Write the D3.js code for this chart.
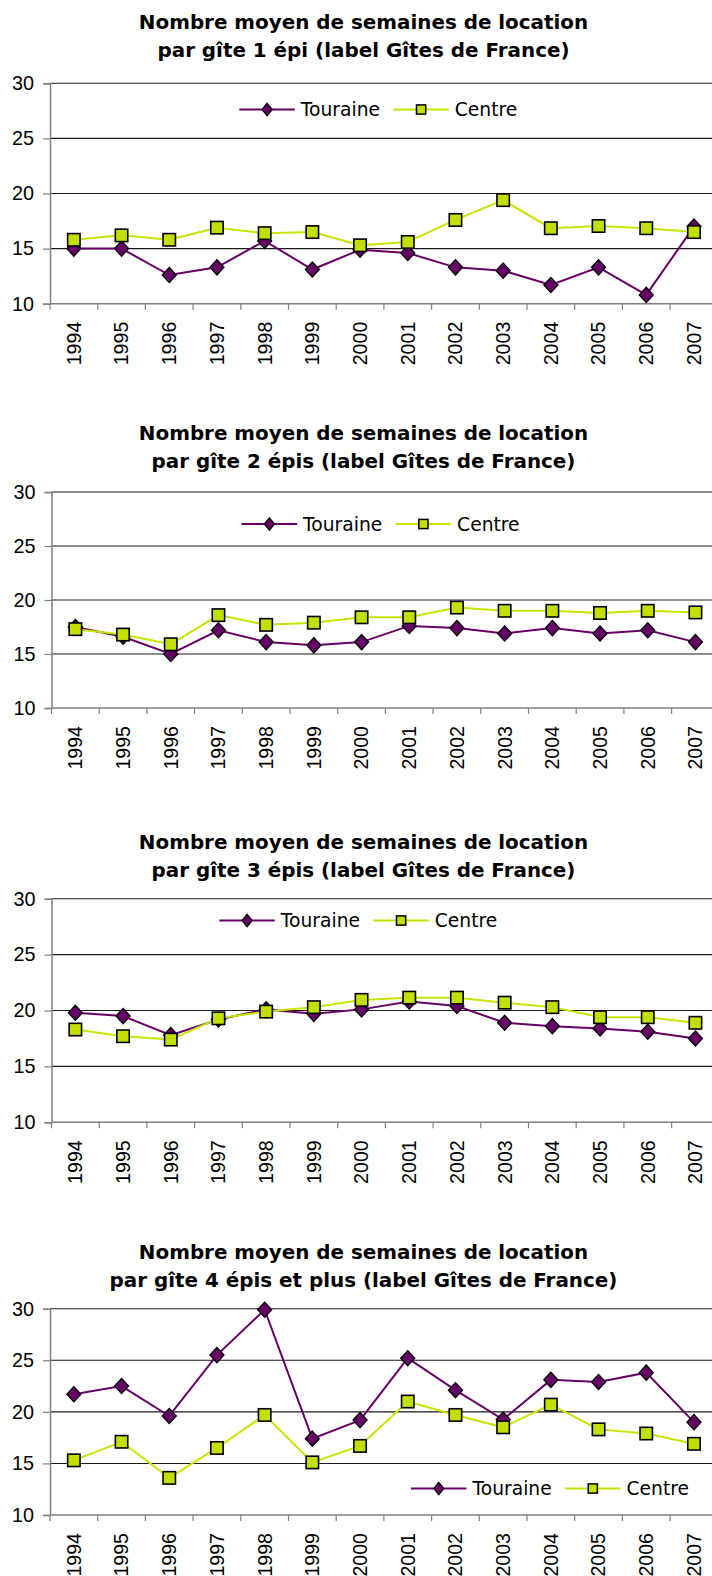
<!DOCTYPE html>
<html>
<head>
<meta charset="utf-8">
<script src="https://cdn.jsdelivr.net/npm/d3@7"></script>
<style>
  html, body { margin: 0; padding: 0; background: #fff; }
  svg { display: block; }
</style>
</head>
<body>
<svg id="chart" width="712" height="1576"></svg>
<script>
// ---------- DATA ----------
const years = ["1994","1995","1996","1997","1998","1999","2000","2001","2002","2003","2004","2005","2006","2007"];
const yTicks = [10, 15, 20, 25, 30];
const seriesNames = ["Touraine", "Centre"];

const titleLine1 = [
  "Nombre moyen de semaines de location",
  "Nombre moyen de semaines de location",
  "Nombre moyen de semaines de location",
  "Nombre moyen de semaines de location"
];
const titleLine2 = [
  "par gîte 1 épi (label Gîtes de France)",
  "par gîte 2 épis (label Gîtes de France)",
  "par gîte 3 épis (label Gîtes de France)",
  "par gîte 4 épis et plus (label Gîtes de France)"
];

const touraine1 = [15.0, 15.0, 12.6, 13.3, 15.7, 13.1, 14.9, 14.6, 13.3, 13.0, 11.7, 13.3, 10.8, 17.0];
const centre1   = [15.8, 16.2, 15.8, 16.9, 16.4, 16.5, 15.3, 15.6, 17.6, 19.4, 16.85, 17.05, 16.85, 16.5];

const touraine2 = [17.5, 16.6, 15.0, 17.2, 16.1, 15.8, 16.1, 17.6, 17.4, 16.9, 17.4, 16.9, 17.2, 16.1];
const centre2   = [17.3, 16.8, 15.9, 18.6, 17.7, 17.9, 18.4, 18.4, 19.3, 19.0, 19.0, 18.8, 19.0, 18.85];

const touraine3 = [19.8, 19.5, 17.8, 19.2, 20.1, 19.7, 20.1, 20.8, 20.4, 18.9, 18.6, 18.4, 18.1, 17.5];
const centre3   = [18.3, 17.7, 17.4, 19.3, 19.9, 20.3, 20.95, 21.15, 21.15, 20.7, 20.3, 19.4, 19.4, 18.9];

const touraine4 = [21.7, 22.5, 19.6, 25.5, 29.9, 17.4, 19.2, 25.2, 22.1, 19.25, 23.1, 22.9, 23.8, 19.0];
const centre4   = [15.3, 17.1, 13.6, 16.5, 19.7, 15.1, 16.7, 21.0, 19.7, 18.5, 20.7, 18.3, 17.9, 16.9];

const tourainePanels = [touraine1, touraine2, touraine3, touraine4];
const centrePanels = [centre1, centre2, centre3, centre4];

// ---------- LAYOUT (positions only) ----------
const panelTop    = [83.3, 492.0, 898.7, 1308.7];
const panelBottom = [303.7, 708.0, 1122.3, 1515.0];
const panelAxisX  = [50, 51.5, 51.5, 50];
const titleBase   = [28.5, 440.0, 849.0, 1259.0];
const legendX     = [239.3, 241.6, 219.3, 411.0];
const legendY     = [109.5, 524.0, 920.5, 1488.5];
const bandW = 47.7;

const colTour = "#660066";
const colCent = "#C3DF00";
const colCentLine = "#C8E400";

const svg = d3.select("#chart");

function diamondPath(rx, ry) {
  return `M0,${-ry}L${rx},0L0,${ry}L${-rx},0Z`;
}

for (let p = 0; p < 4; p++) {
  const g = svg.append("g");
  const ax = panelAxisX[p];
  const x = d3.scaleBand().domain(years).range([ax, ax + bandW * years.length]).padding(0);
  const y = d3.scaleLinear().domain([10, 30]).range([panelBottom[p], panelTop[p]]);
  const xr = ax + bandW * years.length;

  // Title
  [titleLine1[p], titleLine2[p]].forEach((t, k) => {
    g.append("text")
      .attr("x", 363.5).attr("y", titleBase[p] + k * 28.3)
      .attr("text-anchor", "middle")
      .style("font-family", "'DejaVu Sans', Verdana, sans-serif")
      .style("font-weight", "bold").style("font-size", "19.9px")
      .text(t);
  });

  // Gridlines
  g.append("g").selectAll("line").data(yTicks.filter(d => d !== 10)).join("line")
    .attr("x1", ax).attr("x2", xr)
    .attr("y1", d => y(d)).attr("y2", d => y(d))
    .attr("stroke", "#1a1a1a").attr("stroke-width", 1.1);

  // Y axis
  const yAxis = g.append("g").attr("transform", `translate(${ax},0)`)
    .call(d3.axisLeft(y).tickValues(yTicks).tickSize(7).tickPadding(9).tickFormat(d3.format("d")));
  yAxis.select(".domain").attr("stroke", "#808080").attr("stroke-width", 1.5);
  yAxis.selectAll(".tick line").attr("stroke", "#808080").attr("stroke-width", 1.2);
  yAxis.selectAll(".tick text")
    .style("font-family", "'Liberation Sans', Arial, sans-serif")
    .style("font-size", "19.8px").attr("fill", "#000");

  // X axis line
  g.append("line")
    .attr("x1", ax).attr("x2", xr)
    .attr("y1", y(10)).attr("y2", y(10))
    .attr("stroke", "#808080").attr("stroke-width", 1.5);
  // X ticks at category boundaries
  g.append("g").selectAll("line").data(years).join("line")
    .attr("x1", d => x(d)).attr("x2", d => x(d))
    .attr("y1", y(10)).attr("y2", y(10) + 6)
    .attr("stroke", "#808080").attr("stroke-width", 1.2);
  // X labels
  g.append("g").selectAll("text").data(years).join("text")
    .attr("transform", d => `translate(${x(d) + x.bandwidth() / 2},${y(10) + 18}) rotate(-90)`)
    .attr("text-anchor", "end").attr("dy", "0.35em")
    .style("font-family", "'Liberation Sans', Arial, sans-serif")
    .style("font-size", "19.6px").attr("fill", "#000")
    .text(d => d);

  const cx = (d, i) => x(years[i]) + x.bandwidth() / 2;
  const line = d3.line().x((d, i) => cx(d, i)).y(d => y(d));

  // Touraine
  g.append("path").datum(tourainePanels[p])
    .attr("d", line).attr("fill", "none")
    .attr("stroke", colTour).attr("stroke-width", 2);
  g.append("g").selectAll("path").data(tourainePanels[p]).join("path")
    .attr("transform", (d, i) => `translate(${cx(d, i)},${y(d)})`)
    .attr("d", diamondPath(7, 7.6))
    .attr("fill", colTour).attr("stroke", "#000").attr("stroke-width", 1.3);

  // Centre
  g.append("path").datum(centrePanels[p])
    .attr("d", line).attr("fill", "none")
    .attr("stroke", colCentLine).attr("stroke-width", 2);
  g.append("g").selectAll("rect").data(centrePanels[p]).join("rect")
    .attr("x", (d, i) => cx(d, i) - 6.2).attr("y", d => y(d) - 6.2)
    .attr("width", 12.4).attr("height", 12.4)
    .attr("fill", colCent).attr("stroke", "#000").attr("stroke-width", 1.6);

  // Legend
  const lg = g.append("g").attr("transform", `translate(${legendX[p]},${legendY[p]})`);
  const items = [
    { name: seriesNames[0], dx: 0, color: colTour, marker: "diamond" },
    { name: seriesNames[1], dx: 154.0, color: colCentLine, marker: "square" }
  ];
  items.forEach(it => {
    const ig = lg.append("g").attr("transform", `translate(${it.dx},0)`);
    ig.append("line").attr("x1", 0).attr("x2", 55.5).attr("y1", 0).attr("y2", 0)
      .attr("stroke", it.color).attr("stroke-width", 2);
    if (it.marker === "diamond") {
      ig.append("path").attr("transform", "translate(27.8,0)").attr("d", diamondPath(5, 6.2))
        .attr("fill", colTour).attr("stroke", "#000").attr("stroke-width", 1.3);
    } else {
      ig.append("rect").attr("x", 27.8 - 4.6).attr("y", -4.6).attr("width", 9.2).attr("height", 9.2)
        .attr("fill", colCent).attr("stroke", "#000").attr("stroke-width", 1.5);
    }
    ig.append("text").attr("x", 61.5).attr("y", 0).attr("dy", "0.36em")
      .style("font-family", "'DejaVu Sans', Verdana, sans-serif")
      .style("font-size", "18.7px").attr("fill", "#000")
      .text(it.name);
  });
}
</script>
</body>
</html>
